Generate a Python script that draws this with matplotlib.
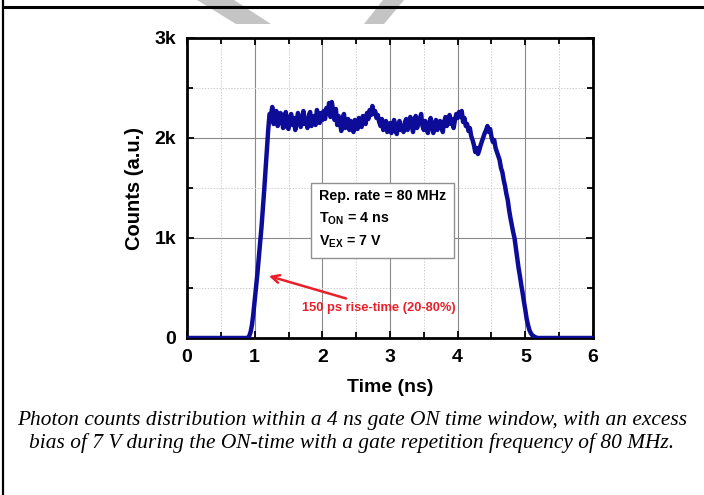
import numpy as np
import matplotlib
matplotlib.use("Agg")
import matplotlib.pyplot as plt
from matplotlib.patches import Polygon
from matplotlib.lines import Line2D
from matplotlib.ticker import MultipleLocator

plt.rcParams['font.family'] = ['Liberation Sans', 'DejaVu Sans']
plt.rcParams['mathtext.fontset'] = 'custom'
plt.rcParams['mathtext.rm'] = 'Liberation Sans:bold'
plt.rcParams['mathtext.it'] = 'Liberation Sans:bold'
plt.rcParams['mathtext.bf'] = 'Liberation Sans:bold'

# ---------------- data (counts in thousands) ----------------
rise_t = [0.0, 0.90, 0.92, 0.94, 0.96, 0.98, 1.00, 1.02, 1.04, 1.06, 1.08,
          1.10, 1.12, 1.14, 1.16, 1.18, 1.20, 1.22]
rise_c = [0.0, 0.0, 0.02, 0.06, 0.13, 0.24, 0.37, 0.50, 0.64, 0.80, 0.95,
          1.10, 1.28, 1.47, 1.67, 1.88, 2.08, 2.24]

plateau_t0 = 1.24
plateau_dt = 0.02
plateau_c = [
    2.22, 2.31, 2.14, 2.19, 2.27, 2.12, 2.16, 2.25, 2.23, 2.10, 2.18, 2.26, 2.11, 2.09, 2.21, 2.24, 2.13, 2.20, 2.08,
    2.17, 2.25, 2.20, 2.11, 2.15, 2.27, 2.14, 2.19, 2.10, 2.23, 2.26, 2.12, 2.17, 2.22, 2.13, 2.28, 2.21, 2.15, 2.25, 2.18,
    2.27, 2.19, 2.30, 2.24, 2.35, 2.21, 2.36, 2.27, 2.18, 2.29, 2.13, 2.22, 2.16, 2.07, 2.20, 2.24, 2.10, 2.15, 2.19, 2.08,
    2.17, 2.12, 2.06, 2.18, 2.14, 2.09, 2.20, 2.16, 2.11, 2.22, 2.18, 2.14, 2.25, 2.19, 2.28, 2.23, 2.32, 2.24, 2.27, 2.20,
    2.23, 2.16, 2.12, 2.19, 2.08, 2.14, 2.17, 2.06, 2.12, 2.15, 2.05, 2.11, 2.18, 2.09, 2.04, 2.13, 2.17, 2.08, 2.12, 2.06,
    2.16, 2.19, 2.08, 2.12, 2.21, 2.14, 2.06, 2.17, 2.22, 2.10, 2.15, 2.19, 2.24, 2.12, 2.08, 2.17, 2.11, 2.05, 2.15, 2.20,
    2.12, 2.05, 2.14, 2.18, 2.08, 2.11, 2.17, 2.13, 2.06, 2.16, 2.21, 2.12, 2.17, 2.23, 2.14, 2.19, 2.10, 2.18, 2.24, 2.20,
    2.26, 2.21, 2.27, 2.16, 2.20, 2.12, 2.14, 2.07, 2.10, 2.02, 1.98, 1.93, 1.86, 1.90, 1.84, 1.88, 1.93, 1.97, 2.01, 2.05,
    2.08, 2.12, 2.06, 2.09, 2.01, 1.96, 1.98, 1.90, 1.86, 1.82,
]

fall_t = [4.62, 4.64, 4.66, 4.68, 4.70, 4.72, 4.74, 4.76, 4.78, 4.80, 4.82, 4.84,
          4.86, 4.88, 4.90, 4.92, 4.94, 4.96, 4.98, 5.00, 5.02, 5.04, 5.06, 5.08,
          5.10, 5.14, 5.18, 6.00]
fall_c = [1.78, 1.70, 1.66, 1.58, 1.52, 1.44, 1.38, 1.28, 1.20, 1.13, 1.06, 1.00,
          0.90, 0.80, 0.70, 0.62, 0.53, 0.45, 0.36, 0.28, 0.19, 0.13, 0.08, 0.05,
          0.03, 0.01, 0.0, 0.0]

y_ticks = [0, 1, 2, 3]
y_ticklabels = ['0', '1k', '2k', '3k']
x_ticks = [0, 1, 2, 3, 4, 5, 6]

plateau_t = [plateau_t0 + i * plateau_dt for i in range(len(plateau_c))]
t = np.array(rise_t + plateau_t + fall_t)
c = np.array(rise_c + plateau_c + fall_c)

# ---------------- figure ----------------
W, H = 704, 495
fig = plt.figure(figsize=(W / 100, H / 100), dpi=100)
fig.patch.set_facecolor('white')


def px(x, y):
    return (x / W, 1 - y / H)


# background watermark shapes
for poly in ([(197, 0), (234, 0), (271, 24), (236, 24)],
             [(383, 0), (404, 0), (384, 24), (364, 24)]):
    fig.patches.append(Polygon([px(*p) for p in poly], closed=True,
                               transform=fig.transFigure, facecolor='#c4c4c4',
                               edgecolor='none', zorder=0))

# frame lines
fig.add_artist(Line2D([3 / W, 1], [1 - 6.5 / H, 1 - 6.5 / H], color='black', lw=2.2,
                      transform=fig.transFigure, zorder=5))
fig.add_artist(Line2D([3 / W, 3 / W], [0, 1], color='black', lw=1.6,
                      transform=fig.transFigure, zorder=5))

ax = fig.add_axes([187 / W, 1 - 338 / H, (593 - 187) / W, (338 - 38) / H])
ax.set_facecolor('none')
ax.set_xlim(0, 6)
ax.set_ylim(0, 3)

ax.xaxis.set_minor_locator(MultipleLocator(0.5))
ax.yaxis.set_minor_locator(MultipleLocator(0.5))
ax.set_xticks(x_ticks)
ax.set_yticks(y_ticks)
ax.set_yticklabels(y_ticklabels)

ax.grid(which='major', color='#8a8a8a', lw=0.8, ls='-')
ax.grid(which='minor', color='#cfcfcf', lw=0.7, ls=(0, (1.5, 1.5)))
ax.set_axisbelow(True)

ax.tick_params(which='both', direction='in', top=True, right=True, width=1.3, colors='black')
ax.tick_params(which='major', length=5, labelsize=14, pad=8)
ax.tick_params(which='minor', length=4)
for lab in ax.get_xticklabels() + ax.get_yticklabels():
    lab.set_fontweight('bold')
for sp in ax.spines.values():
    sp.set_linewidth(2.0)

ax.plot(t, c, color='#0c0c98', lw=3.2, solid_joinstyle='round', zorder=3)

ax.set_xlabel('Time (ns)', fontsize=14, fontweight='bold', va='center')
ax.xaxis.set_label_coords(0.5, -50 / 300)
ax.set_ylabel('Counts (a.u.)', fontsize=14.5, fontweight='bold', va='center')
ax.yaxis.set_label_coords(-53 / 406, 0.5)

ax.text(1.95, 1.49, 'Rep. rate = 80 MHz\nT$_{\\mathrm{ON}}$ = 4 ns\nV$_{\\mathrm{EX}}$ = 7 V',
        fontsize=10.3, fontweight='bold', va='top', ha='left', linespacing=1.6,
        bbox=dict(boxstyle='square,pad=0.55', fc='white', ec='#909090', lw=1.0), zorder=4)

ax.annotate('150 ps rise-time (20-80%)', xy=(1.21, 0.62), xytext=(1.70, 0.30),
            color='#e8202a', fontsize=9.3, fontweight='bold', va='center', ha='left',
            arrowprops=dict(arrowstyle='->', color='#e8202a', lw=1.8, mutation_scale=14,
                            shrinkA=2, shrinkB=0), zorder=4)

cap_font = ['Liberation Serif', 'DejaVu Serif']
fig.text(352 / W, 1 - 420 / H,
         'Photon counts distribution within a 4 ns gate ON time window, with an excess',
         ha='center', va='center', fontsize=15.4, style='italic', family=cap_font)
fig.text(352 / W, 1 - 443 / H,
         'bias of 7 V during the ON-time with a gate repetition frequency of 80 MHz.',
         ha='center', va='center', fontsize=15.4, style='italic', family=cap_font)

fig.savefig('out.png', dpi=100)
